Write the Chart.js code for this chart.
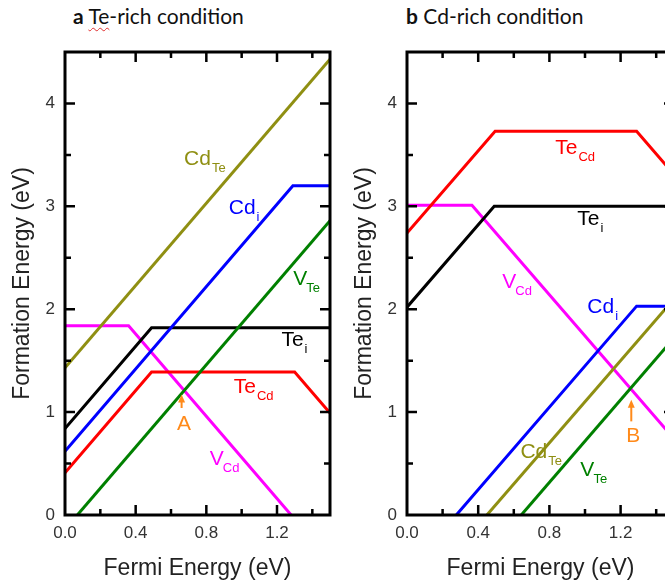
<!DOCTYPE html>
<html><head><meta charset="utf-8">
<script src="https://cdn.jsdelivr.net/npm/chart.js@4.4.0/dist/chart.umd.min.js"></script>
<style>
html,body{margin:0;padding:0;background:#fff;width:665px;height:585px;overflow:hidden;position:relative}
canvas{position:absolute;top:0}
#ca{left:0}
#cb{left:342px}
.ttl{position:absolute;top:3px;font-family:Lato,"Open Sans",sans-serif;font-size:21px;color:#111;white-space:nowrap}
.ttl b{font-weight:700}
.sq{text-decoration:underline wavy #e03030;text-decoration-thickness:1px;text-underline-offset:3px}
</style></head>
<body>
<div class="ttl" style="left:73px"><b>a</b> <span class="sq">Te</span>-rich condition</div>
<div class="ttl" style="left:406px"><b>b</b> Cd-rich condition</div>
<canvas id="ca" width="340" height="585"></canvas>
<canvas id="cb" width="342" height="585"></canvas>
<script>
// ---- axis ticks ----
const xTicks = [0.0, 0.4, 0.8, 1.2];
const xMinor = [0.2, 0.6, 1.0, 1.4];
const yTicks = [0, 1, 2, 3, 4];
const yMinor = [0.5, 1.5, 2.5, 3.5];

// ---- defect names (main, subscript) ----
const defectNames = [['Cd','Te'], ['Cd','i'], ['V','Te'], ['Te','i'], ['Te','Cd'], ['V','Cd']];

// ---- (a) Te-rich condition: [Fermi energy, formation energy] ----
const aCdTe = [[0, 1.43], [1.5, 4.43]];
const aCdi  = [[0, 0.62], [1.29, 3.20], [1.5, 3.20]];
const aVTe  = [[0.07, 0], [1.5, 2.86]];
const aTei  = [[0, 0.84], [0.49, 1.82], [1.5, 1.82]];
const aTeCd = [[0, 0.41], [0.49, 1.39], [1.30, 1.39], [1.5, 0.99]];
const aVCd  = [[0, 1.84], [0.36, 1.84], [1.28, 0]];

// ---- (b) Cd-rich condition ----
const bCdTe = [[0.449, 0], [1.5, 2.10]];
const bCdi  = [[0.277, 0], [1.29, 2.03], [1.5, 2.03]];
const bVTe  = [[0.642, 0], [1.5, 1.72]];
const bTei  = [[0, 2.02], [0.49, 3.00], [1.5, 3.00]];
const bTeCd = [[0, 2.74], [0.495, 3.73], [1.29, 3.73], [1.5, 3.31]];
const bVCd  = [[0, 3.01], [0.365, 3.01], [1.5, 0.74]];

// ---- label anchors (data units) ----
const aLabelAt = [[0.674, 3.40], [0.927, 2.93], [1.292, 2.24], [1.225, 1.64], [0.955, 1.19], [0.82, 0.485]];
const bLabelAt = [[0.637, 0.553], [1.013, 1.96], [0.974, 0.379], [0.957, 2.82], [0.833, 3.51], [0.535, 2.21]];

// ---- arrows: [x, yStart, yTip], label ----
const arrowA = [0.66, 1.04, 1.17];
const arrowB = [1.26, 0.91, 1.12];
const arrowLabelA = ['A', 0.674, 0.825];
const arrowLabelB = ['B', 1.271, 0.709];

// ---- styles ----
const colors = ['#8f8f12', '#0000ff', '#008000', '#000000', '#ff0000', '#ff00ff'];
const orange = '#ff8a1a';
const FONT = '"Liberation Sans", Arial, sans-serif';

function makeOverlay(labelAt, arrow, arrowLabel){
  return {
    id: 'overlay',
    afterDraw(chart){
      const {ctx, chartArea: ca, scales: {x, y}} = chart;
      ctx.save();
      // labels
      defectNames.forEach((nm, i) => {
        const px = x.getPixelForValue(labelAt[i][0]);
        const py = y.getPixelForValue(labelAt[i][1]);
        ctx.fillStyle = colors[i];
        ctx.textAlign = 'left'; ctx.textBaseline = 'alphabetic';
        ctx.font = '21px ' + FONT;
        ctx.fillText(nm[0], px, py);
        let w = ctx.measureText(nm[0]).width;
        if (nm[0] === 'V') w -= 2;
        ctx.font = '13px ' + FONT;
        ctx.fillText(nm[1], px + w + 1, py + 7);
      });
      // arrow
      const ax = x.getPixelForValue(arrow[0]);
      const ay1 = y.getPixelForValue(arrow[1]);
      const ay2 = y.getPixelForValue(arrow[2]);
      ctx.strokeStyle = orange; ctx.fillStyle = orange; ctx.lineWidth = 2;
      ctx.beginPath(); ctx.moveTo(ax, ay1); ctx.lineTo(ax, ay2 + 6); ctx.stroke();
      ctx.beginPath(); ctx.moveTo(ax, ay2); ctx.lineTo(ax - 3.5, ay2 + 8); ctx.lineTo(ax + 3.5, ay2 + 8); ctx.closePath(); ctx.fill();
      ctx.font = '21px ' + FONT; ctx.textAlign = 'center';
      ctx.fillText(arrowLabel[0], x.getPixelForValue(arrowLabel[1]), y.getPixelForValue(arrowLabel[2]));
      // frame
      ctx.strokeStyle = '#000'; ctx.lineWidth = 3;
      ctx.strokeRect(ca.left, ca.top, ca.right - ca.left, ca.bottom - ca.top);
      ctx.lineWidth = 2.5;
      ctx.beginPath();
      const tickX = (vals, len) => vals.forEach(v => {
        const p = x.getPixelForValue(v);
        if (p <= ca.left + 1 || p >= ca.right - 1) return;
        ctx.moveTo(p, ca.bottom); ctx.lineTo(p, ca.bottom - len);
        ctx.moveTo(p, ca.top); ctx.lineTo(p, ca.top + len);
      });
      const tickY = (vals, len) => vals.forEach(v => {
        const p = y.getPixelForValue(v);
        if (p >= ca.bottom - 1 || p <= ca.top + 1) return;
        ctx.moveTo(ca.left, p); ctx.lineTo(ca.left + len, p);
        ctx.moveTo(ca.right, p); ctx.lineTo(ca.right - len, p);
      });
      tickX(xTicks, 10); tickX(xMinor, 6);
      tickY(yTicks, 10); tickY(yMinor, 6);
      ctx.stroke();
      ctx.restore();
    }
  };
}

function makeChart(id, series, labelAt, arrow, arrowLabel){
  const datasets = series.map((s, i) => ({
    data: s.map(p => ({x: p[0], y: p[1]})),
    borderColor: colors[i], backgroundColor: colors[i],
    borderWidth: 3, pointRadius: 0, showLine: true, fill: false, tension: 0
  }));
  return new Chart(document.getElementById(id), {
    type: 'scatter',
    data: {datasets},
    options: {
      responsive: false, animation: false, events: [],
      layout: {padding: {top: 52, right: 10, left: 0, bottom: 0}},
      plugins: {legend: {display: false}, tooltip: {enabled: false}},
      scales: {
        x: {
          type: 'linear', min: 0, max: 1.5,
          afterBuildTicks: s => { s.ticks = xTicks.map(v => ({value: v})); },
          afterFit: s => { s.height = 70; },
          grid: {display: false, drawTicks: false}, border: {display: false},
          ticks: {padding: 8, color: '#333', font: {family: FONT, size: 17}, maxRotation: 0, autoSkip: false,
                  callback: v => Number(v).toFixed(1)},
          title: {display: true, text: 'Fermi Energy (eV)', color: '#222', font: {family: FONT, size: 23}, padding: {top: 0, bottom: 3}}
        },
        y: {
          type: 'linear', min: 0, max: 4.5,
          afterBuildTicks: s => { s.ticks = yTicks.map(v => ({value: v})); },
          afterFit: s => { s.width = 65; },
          grid: {display: false, drawTicks: false}, border: {display: false},
          ticks: {padding: 10, color: '#333', font: {family: FONT, size: 17}, autoSkip: false,
                  callback: v => String(v)},
          title: {display: true, text: 'Formation Energy (eV)', color: '#222', font: {family: FONT, size: 23}, padding: {top: 9, bottom: 0}}
        }
      }
    },
    plugins: [makeOverlay(labelAt, arrow, arrowLabel)]
  });
}

makeChart('ca', [aCdTe, aCdi, aVTe, aTei, aTeCd, aVCd], aLabelAt, arrowA, arrowLabelA);
makeChart('cb', [bCdTe, bCdi, bVTe, bTei, bTeCd, bVCd], bLabelAt, arrowB, arrowLabelB);
</script>
</body></html>
